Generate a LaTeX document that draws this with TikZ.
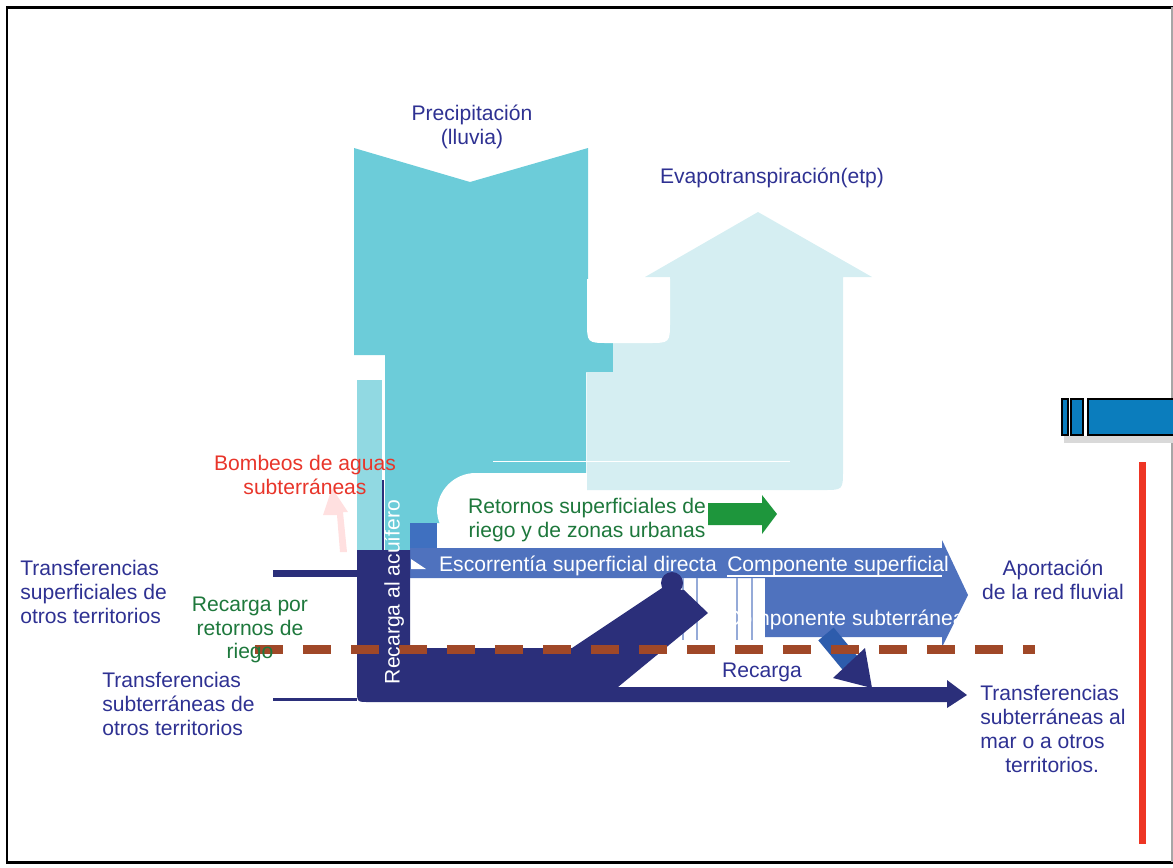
\documentclass[tikz,border=0pt]{standalone}
\usepackage{fontspec}
\setmainfont{Liberation Sans}
\usetikzlibrary{positioning}

\definecolor{precipcol}{RGB}{108,204,217}
\definecolor{etpcol}{RGB}{213,238,242}
\definecolor{navycol}{RGB}{43,47,122}
\definecolor{flowcol}{RGB}{79,114,190}
\definecolor{patchcol}{RGB}{63,112,192}
\definecolor{shaftcol}{RGB}{45,92,172}
\definecolor{greenarrow}{RGB}{30,150,60}
\definecolor{greentext}{RGB}{30,120,60}
\definecolor{redtext}{RGB}{232,53,42}
\definecolor{dashcol}{RGB}{160,72,40}
\definecolor{navytext}{RGB}{46,49,146}
\definecolor{redline}{RGB}{238,53,36}
\definecolor{barcol}{RGB}{11,125,189}

\begin{document}
\begin{tikzpicture}[x=0.02cm,y=-0.02cm]
    \tikzstyle{txt}=[inner sep=0pt,align=center,font=\fontsize{12}{13.6}\selectfont,text=navytext]
    \tikzstyle{lefttxt}=[txt,align=left,anchor=west]
    \tikzstyle{whitetxt}=[txt,text=white]
    \tikzstyle{transfer}=[draw=navycol,line cap=butt]
    \useasboundingbox (0,0) rectangle (1173,867);
    % Frame
    \draw[black,line width=1.7pt] (1173,7) -- (7,7) -- (7,862) -- (1173,862);
    \draw[black!35,line width=0.6pt] (1172,7) -- (1172,862);
    % Precipitation and evapotranspiration
    \fill[precipcol] (354,148) -- (470,182) -- (588,148) -- (588,290) -- (613,290) -- (613,372)
        -- (586,372) -- (586,523) -- (410,523) -- (410,550) -- (385,550) -- (385,355) -- (354,355) -- cycle;
    \fill[precipcol!75] (357,380) rectangle (382,550);
    \fill[white,rounded corners=22] (437,548) -- (437,473) -- (725,473) -- (725,548) -- cycle;
    \fill[etpcol] (645,277) -- (758,212) -- (872,277) -- (843,277) -- (843,470)
        .. controls (843,490) .. (823,490) -- (587,490) -- (587,372) -- (613,372) -- (613,300)
        -- (670,300) -- (670,277) -- cycle;
    \fill[white] (587,279) -- (587,321) .. controls (587,343) .. (609,343) -- (648,343)
        .. controls (670,343) .. (670,321) -- (670,279) -- cycle;
    \draw[white,line width=0.5pt] (493,461) -- (790,461);
    \draw[navycol,line width=0.6pt] (383,480) -- (383,550);
    % Surface runoff
    \fill[patchcol] (410,523) rectangle (437,548);
    \fill[flowcol] (410,548) -- (942,548) -- (942,540) -- (968,595) -- (942,647) -- (942,637)
        -- (765,637) -- (765,578) -- (410,578) -- cycle;
    \foreach \x in {683,697,737,752}
        \draw[flowcol!60,line width=0.6pt] (\x,578) -- (\x,640);
    \draw[white,line width=0.6pt] (727,576) -- (942,576);
    \fill[white] (411,559) -- (426,569) -- (411,569) -- cycle;
    % Groundwater
    \fill[navycol] (357,550) -- (410,550) -- (410,648) -- (572,648) -- (662,588) -- (684,590)
        -- (708,613) -- (618,687) -- (947,687) -- (947,680) -- (967,695) -- (947,708) -- (947,702)
        -- (369,702) .. controls (357,702) .. (357,690) -- cycle;
    \fill[navycol] (672,583) circle (11);
    \draw[shaftcol,line width=0.4cm] (826,634) -- (850,663);
    \fill[navycol] (833,678) -- (872,688) -- (865,648) -- cycle;
    % Return flows and pumping
    \fill[greenarrow] (708,503) -- (762,503) -- (762,495) -- (777,514) -- (762,534) -- (762,525) -- (708,525) -- cycle;
    \fill[red!12] (323,515) -- (332,488) -- (348,512) -- (343,512) -- (347,552) -- (340,552) -- (337,515) -- cycle;
    % Transfers in
    \coordinate (tsupin) at (273,573);
    \coordinate (tsupend) at (357,573);
    \coordinate (tsubin) at (273,699);
    \coordinate (tsubend) at (357,699);
    \draw[transfer,line width=0.14cm] (tsupin) -- (tsupend);
    \draw[transfer,line width=0.06cm] (tsubin) -- (tsubend);
    % Water table
    \draw[dashcol,line width=0.18cm,dash pattern=on 0.56cm off 0.4cm] (255,649) -- (1035,649);
    % Boundary
    \draw[redline,line width=0.14cm] (1142,462) -- (1142,844);
    \fill[black!15] (1064,436) rectangle (1173,443);
    \foreach \xa/\xb in {1062/1068,1071/1083}
        \filldraw[fill=barcol,draw=black,line width=1.1pt] (\xa,399) rectangle (\xb,435);
    \fill[barcol] (1088,399) rectangle (1173,435);
    \draw[black,line width=1.1pt] (1173,399) -- (1088,399) -- (1088,435) -- (1173,435);
    % Labels
    \node[txt] (precip) at (472,127) {Precipitación\\(lluvia)};
    \node[txt] (etp) at (772,178) {Evapotranspiración(etp)};
    \node[txt,text=redtext] (bombeo) at (305,475) {Bombeos de aguas\\subterráneas};
    \node[txt,text=greentext] (retorno) at (587,520) {Retornos superficiales de\\riego y de zonas urbanas};
    \node[whitetxt] (escorr) at (578,566) {Escorrentía superficial directa};
    \node[whitetxt] (compsup) at (838,566) {Componente superficial};
    \node[whitetxt] (compsub) at (845,620) {Componente subterránea};
    \node[whitetxt,rotate=90] (recacu) at (394,592) {Recarga al acuífero};
    \node[lefttxt] (tsup) at (20,592) {Transferencias\\superficiales de\\otros territorios};
    \node[txt,text=greentext] (recret) at (250,630) {Recarga por\\retornos de\\riego};
    \node[lefttxt] (tsub) at (102,704) {Transferencias\\subterráneas de\\otros territorios};
    \node[txt] (recarga) at (762,672) {Recarga};
    \node[txt] (aport) at (1053,580) {Aportación\\de la red fluvial};
    \node[lefttxt] (tmar) at (980,729) {Transferencias\\subterráneas al\\mar o a otros\\\hspace*{0.5cm}territorios.};
\end{tikzpicture}
\end{document}
